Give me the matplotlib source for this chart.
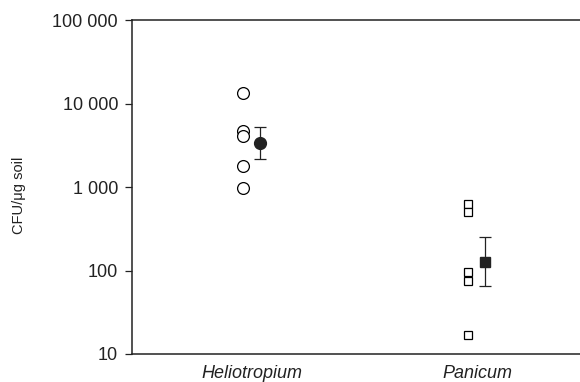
import numpy as np
import matplotlib.pyplot as plt

plt.rcParams['font.family'] = ['Liberation Sans', 'DejaVu Sans']

# CFU counts per sample
categories = ['Heliotropium', 'Panicum']
helio_samples = [13500, 4700, 4100, 1800, 965]
panicum_samples = [620, 500, 97, 74, 17]
# geometric means with error bar limits
means = [3400, 128]
err_low = [2150, 66]
err_high = [5200, 250]

yticks = [10, 100, 1000, 10000, 100000]
ytick_labels = ['10', '100', '1 000', '10 000', '100 000']

fig = plt.figure(figsize=(5.8, 3.82), dpi=100)
ax = fig.add_axes([0.2276, 0.0733, 0.7724, 0.8743])

pos = np.arange(1, len(categories) + 1)
ax.plot([pos[0] - 0.04] * len(helio_samples), helio_samples, 'o', ms=8.5,
        mfc='white', mec='black', mew=0.9, ls='none')
ax.plot([pos[1] - 0.04] * len(panicum_samples), panicum_samples, 's', ms=5.8,
        mfc='white', mec='black', mew=0.9, ls='none')

for i, mk in enumerate(['o', 's']):
    m = means[i]
    yerr = [[m - err_low[i]], [err_high[i] - m]]
    ax.errorbar(pos[i] + 0.036, m, yerr=yerr, fmt=mk, ms=8.5 if mk == 'o' else 7.5,
                color='#222222', mfc='#222222', mec='#222222', ecolor='#222222',
                elinewidth=0.9, capsize=4, capthick=0.9)

ax.set_yscale('log')
ax.set_ylim(10, 100000)
ax.set_xlim(0.466, 2.458)
ax.set_yticks(yticks)
ax.set_yticklabels(ytick_labels)
ax.yaxis.set_minor_locator(plt.NullLocator())
ax.set_xticks(pos)
ax.set_xticklabels(categories, fontstyle='italic')
ax.tick_params(axis='x', length=0, pad=8, labelsize=13, colors='#222222')
ax.tick_params(axis='y', length=5, width=0.9, pad=5, labelsize=13, colors='#222222')
ax.set_ylabel('CFU/\u03bcg soil', fontsize=10.5, labelpad=19, color='#222222')
ax.yaxis.label.set_y(0.476)

for s in ['top', 'bottom', 'left']:
    ax.spines[s].set_linewidth(1.1)
    ax.spines[s].set_color('#222222')
ax.spines['right'].set_visible(False)

fig.savefig('out.png', dpi=100)
